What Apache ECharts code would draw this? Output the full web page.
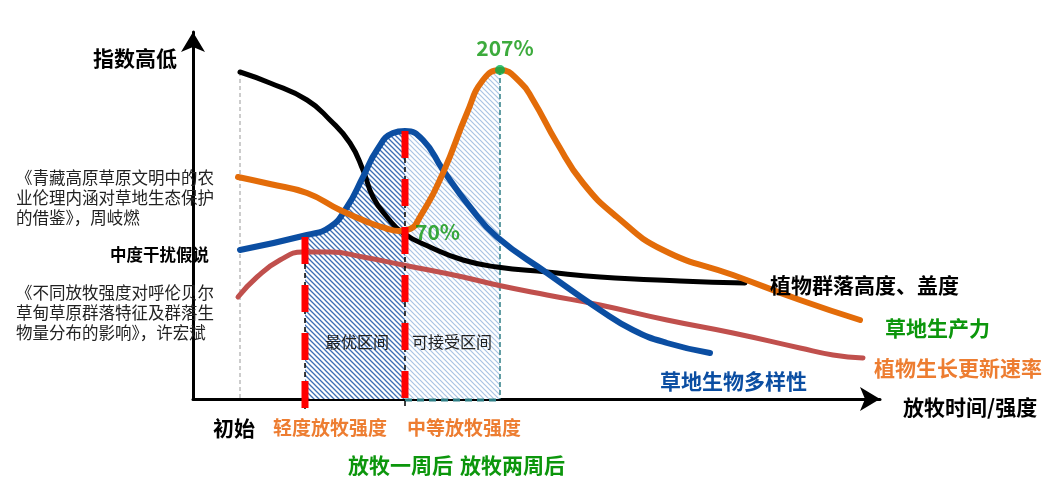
<!DOCTYPE html>
<html>
<head>
<meta charset="utf-8">
<script src="https://cdn.jsdelivr.net/npm/echarts@6/dist/echarts.min.js"></script>
<style>html,body{margin:0;padding:0;background:#fff}#c{width:1058px;height:491px}</style>
</head>
<body>
<div id="c"></div>
<script>
// ---- data (x: grazing time/intensity units, y: index units) ----
const communityHeight = [[47,327],[77,316],[114,299],[137,279],[157,256],[170,229],[180,202],[194,182],[210,166],[237,152],[270,139],[304,132],[354,127],[407,122],[487,118],[552,116]];
const productivity = [[45,222],[77,215],[114,206],[147,189],[177,176],[192,171],[206,168],[217,170],[227,182],[250,226],[274,286],[290,319],[307,329],[327,317],[340,299],[364,256],[390,216],[424,182],[470,149],[540,124],[607,99],[667,79]];
const biodiversity = [[47,149],[114,164],[137,172],[154,192],[170,222],[184,249],[200,266],[212,268],[230,259],[250,229],[277,192],[304,162],[354,126],[407,89],[440,69],[474,56],[517,46]];
const renewalRate = [[45,102],[64,122],[87,139],[110,147],[137,147],[170,142],[210,134],[270,122],[304,114],[354,104],[407,94],[474,79],[540,66],[607,51],[640,44],[670,41]];
const optimalZoneTop = [[112,163],[137,172],[154,192],[170,222],[184,249],[200,266],[212,268]];
const acceptableZoneTop = [[212,268],[230,259],[248,229],[264,262],[274,286],[290,319],[307,329]];
const startGuide = [[47,327,0]];
const intensityGuides = [[112,162,-10],[212,268,-10]];
const acceptableEdge = [[212,307,329]];
const markerPoints = [[307,329],[206,168]];
const markerLabels = ['207%','70%'];
const seriesNames = ['植物群落高度、盖度','草地生产力','草地生物多样性','植物生长更新速率'];
const zoneNames = ['最优区间','可接受区间'];
const bottomLabels = ['初始','轻度放牧强度','中等放牧强度','放牧一周后','放牧两周后'];
const axisNames = ['指数高低','放牧时间/强度'];
const refTexts = ['《青藏高原草原文明中的农\n业伦理内涵对草地生态保护\n的借鉴》，周岐燃','中度干扰假说','《不同放牧强度对呼伦贝尔\n草甸草原群落特征及群落生\n物量分布的影响》，许宏斌'];

// ---- hatch patterns ----
function hatch(color, size, w){
  const c = document.createElement('canvas'); c.width = size; c.height = size;
  const g = c.getContext('2d'); g.fillStyle = '#fff'; g.fillRect(0,0,size,size);
  g.strokeStyle = color; g.lineWidth = w;
  g.beginPath();
  g.moveTo(-1,-1); g.lineTo(size+1,size+1);
  g.moveTo(size-2,-2); g.lineTo(size+2,2);
  g.moveTo(-2,size-2); g.lineTo(2,size+2);
  g.stroke();
  return {image:c, repeat:'repeat'};
}

const FONT = '"Noto Sans CJK SC", "Noto Sans", sans-serif';
const GREEN = '#0c960c', ORANGE = '#ed7d31', BLUE = '#0b4ea2', BLACK = '#000';

function curve(name, data, color, width, z){
  return {name, type:'line', data, smooth:0.5, showSymbol:false,
    lineStyle:{color, width, cap:'round'}, z, silent:true};
}
function zone(data, pattern){
  return {type:'line', data, smooth:0.4, showSymbol:false, lineStyle:{width:0},
    areaStyle:{color:pattern, opacity:1}, z:1, silent:true};
}
function txt(text, x, y, size, color, bold){
  return {type:'text', x, y, z:50, style:{text, fill:color,
    font:(bold?'bold ':'')+size+'px '+FONT, align:'left', verticalAlign:'middle',
    textAlign:'left', textVerticalAlign:'middle', lineHeight:20}};
}
function lineEl(p1,p2,stroke,w,dash){
  return {type:'line', shape:{x1:p1[0],y1:p1[1],x2:p2[0],y2:p2[1]}, style:{stroke, lineWidth:w, lineDash:dash}};
}

const chart = echarts.init(document.getElementById('c'), null, {renderer:'canvas'});
const axisCommon = {type:'value', min:0, axisTick:{show:false}, axisLabel:{show:false}, splitLine:{show:false},
  axisLine:{show:true, onZero:false, symbol:['none','arrow'], symbolSize:[18,20], lineStyle:{color:'#000', width:3}}};

chart.setOption({
  animation:false,
  backgroundColor:'#fff',
  grid:{left:193, right:178, top:32, bottom:92},
  xAxis:Object.assign({}, axisCommon, {max:687}),
  yAxis:Object.assign({}, axisCommon, {max:367}),
  series:[
    zone(optimalZoneTop, hatch('#3d6fb5', 5, 1.3)),
    zone(acceptableZoneTop, hatch('#a9c4e4', 5, 1.2)),
    {type:'custom', data:startGuide, clip:false, z:3, silent:true,
      renderItem:(p, api)=>{const a=api.coord([api.value(0),api.value(1)]), b=api.coord([api.value(0),api.value(2)]);
        return lineEl(a,b,'#999',1,[4,3]);}},
    {type:'custom', data:acceptableEdge, clip:false, z:3, silent:true,
      renderItem:(p, api)=>{const x0=api.value(0), x1=api.value(1), top=api.value(2);
        const a=api.coord([x1,top]), b=api.coord([x1,0]), c=api.coord([x0,0]);
        return {type:'group', children:[lineEl(a,b,'#2f7f86',1.5,[5,3]), lineEl([c[0],c[1]+1],[b[0],b[1]+1],'#2f7f86',3,[7,5])]};}},
    curve(seriesNames[3], renewalRate, '#c0504d', 5, 4),
    curve(seriesNames[0], communityHeight, BLACK, 5, 5),
    curve(seriesNames[2], biodiversity, BLUE, 6, 6),
    curve(seriesNames[1], productivity, '#e36c09', 6, 7),
    {type:'custom', data:intensityGuides, clip:false, z:9, silent:true,
      renderItem:(p, api)=>{const a=api.coord([api.value(0),api.value(1)]), b=api.coord([api.value(0),api.value(2)]);
        return {type:'group', children:[lineEl(a,b,'#000',1.5,[5,4]), lineEl(a,b,'#ff0000',7,[27,21])]};}},
    {type:'scatter', z:10, silent:true,
      data: markerPoints.map((pt,i)=>({value:pt, symbolSize: i===0?10:0,
        itemStyle:{color:'#00b050'},
        label:{show:true, formatter:markerLabels[i], color:GREEN, fontFamily:FONT, fontWeight:'bold', fontSize:21,
          position: i===0?'top':'right', distance: i===0?6:16, offset: i===0?[5,0]:[0,1]}}))}
  ],
  graphic:[
    txt(axisNames[0], 93, 58, 21, BLACK, true),
    txt(axisNames[1], 903, 407, 21, BLACK, true),
    txt(seriesNames[0], 770, 285, 21, BLACK, true),
    txt(seriesNames[1], 885, 328, 21, GREEN, true),
    txt(seriesNames[3], 874, 368, 21, ORANGE, true),
    txt(seriesNames[2], 660, 381, 21, BLUE, true),
    txt(zoneNames[0], 325, 342, 16, '#222', false),
    txt(zoneNames[1], 412, 342, 16, '#222', false),
    txt(bottomLabels[0], 213, 428, 21, BLACK, true),
    txt(bottomLabels[1], 273, 428, 19, ORANGE, true),
    txt(bottomLabels[2], 407, 428, 19, ORANGE, true),
    txt(bottomLabels[3], 348, 465, 21, GREEN, true),
    txt(bottomLabels[4], 460, 465, 21, GREEN, true),
    txt(refTexts[0], 16, 198, 16.5, '#222', false),
    txt(refTexts[1], 110, 255, 16.5, BLACK, true),
    txt(refTexts[2], 16, 313, 16.5, '#222', false)
  ]
});
</script>
</body>
</html>
